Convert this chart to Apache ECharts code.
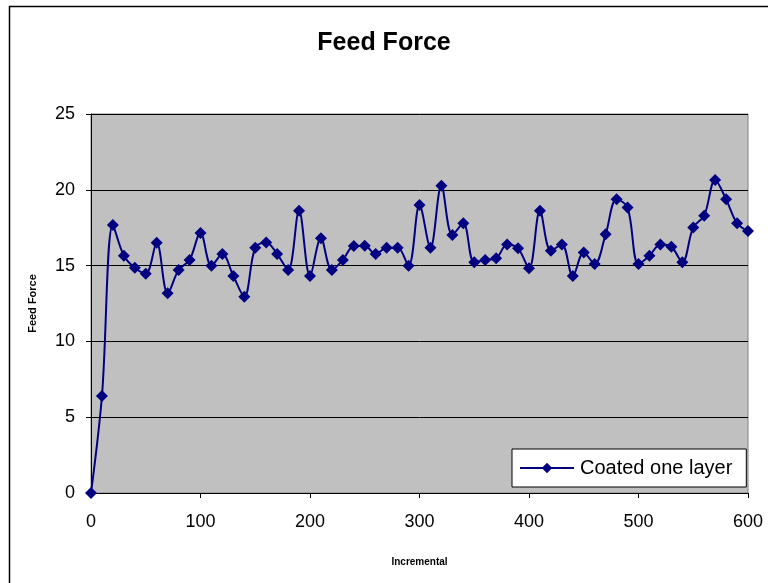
<!DOCTYPE html>
<html>
<head>
<meta charset="utf-8">
<script src="https://cdn.jsdelivr.net/npm/echarts@6/dist/echarts.min.js"></script>
<style>html,body{margin:0;padding:0;background:#fff;}#c{width:768px;height:583px;}</style>
</head>
<body>
<div id="c"></div>
<script>
var xValues = [0,10,20,30,40,50,60,70,80,90,100,110,120,130,140,150,160,170,180,190,200,210,220,230,240,250,260,270,280,290,300,310,320,330,340,350,360,370,380,390,400,410,420,430,440,450,460,470,480,490,500,510,520,530,540,550,560,570,580,590,600];
var feedForce = [0,6.4,17.68,15.65,14.86,14.47,16.51,13.17,14.71,15.37,17.15,14.99,15.76,14.31,12.95,16.18,16.53,15.76,14.71,18.62,14.31,16.8,14.71,15.37,16.29,16.31,15.76,16.18,16.18,14.99,19.0,16.18,20.27,17.02,17.79,15.22,15.37,15.48,16.4,16.14,14.82,18.62,15.98,16.4,14.31,15.87,15.1,17.06,19.37,18.84,15.1,15.65,16.4,16.25,15.22,17.52,18.29,20.65,19.37,17.79,17.28];
var seriesName = 'Coated one layer';
var chartTitle = 'Feed Force';
var xName = 'Incremental';
var yName = 'Feed Force';

var data = xValues.map(function(x, i){ return [x, feedForce[i]]; });
var chart = echarts.init(document.getElementById('c'), null, {renderer: 'canvas'});
var font = 'Liberation Sans, Arial, sans-serif';
chart.setOption({
  animation: false,
  backgroundColor: '#ffffff',
  title: {
    text: chartTitle, left: 'center', top: 26,
    textStyle: {fontFamily: font, fontSize: 25, fontWeight: 'bold', color: '#000'}
  },
  graphic: [{
    type: 'rect', z: -10,
    shape: {x: 9.5, y: 6.5, width: 800, height: 620},
    style: {fill: 'none', stroke: '#000', lineWidth: 1.5}
  }],
  grid: {
    left: 91, right: 20, top: 114, bottom: 90,
    show: true, backgroundColor: '#c0c0c0', borderColor: '#808080', borderWidth: 1
  },
  legend: {
    data: [seriesName],
    left: 512, top: 449,
    backgroundColor: '#ffffff', borderColor: '#000', borderWidth: 1,
    padding: [9, 14, 9, 7],
    itemWidth: 54, itemHeight: 13, itemGap: 5,
    textStyle: {fontFamily: font, fontSize: 20, color: '#000', padding: [0, 0, 0, 1]}
  },
  xAxis: {
    type: 'value', min: 0, max: 600, interval: 100,
    name: xName, nameLocation: 'middle', nameGap: 64,
    nameTextStyle: {fontFamily: font, fontSize: 10, fontWeight: 'bold', color: '#000'},
    axisLine: {show: true, lineStyle: {color: '#000', width: 1}},
    axisTick: {show: true, inside: false, length: 5, lineStyle: {color: '#000'}},
    axisLabel: {fontFamily: font, fontSize: 18, color: '#000', margin: 20},
    splitLine: {show: false}
  },
  yAxis: {
    type: 'value', min: 0, max: 25, interval: 5,
    name: yName, nameLocation: 'middle', nameGap: 53, nameRotate: 90,
    nameTextStyle: {fontFamily: font, fontSize: 11, fontWeight: 'bold', color: '#000'},
    axisLine: {show: true, lineStyle: {color: '#000', width: 1}},
    axisTick: {show: true, inside: false, length: 5, lineStyle: {color: '#000'}},
    axisLabel: {fontFamily: font, fontSize: 18, color: '#000', margin: 16},
    splitLine: {show: true, lineStyle: {color: '#000', width: 1}}
  },
  series: [{
    name: seriesName, type: 'line', data: data,
    smooth: 0.35,
    symbol: 'diamond', symbolSize: 12,
    lineStyle: {color: '#000080', width: 2},
    itemStyle: {color: '#000080'},
    clip: false
  }]
});
</script>
</body>
</html>
